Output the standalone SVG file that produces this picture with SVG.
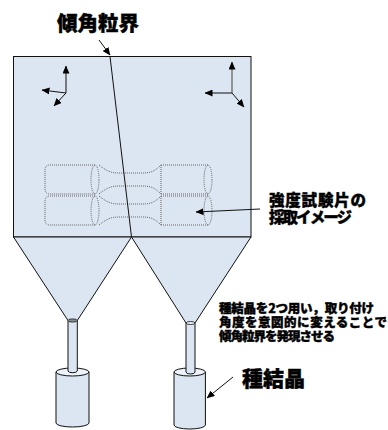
<svg xmlns="http://www.w3.org/2000/svg" xmlns:xlink="http://www.w3.org/1999/xlink" width="388" height="430" viewBox="0 0 388 430">
  <style>
    .body { fill: #dce6f2; stroke: #111; stroke-width: 1; }
    .cap { fill: #eef3fa; stroke: #111; stroke-width: 1; }
    .line { fill: none; stroke: #111; stroke-width: 1; }
    .dot { fill: none; stroke: #666; stroke-width: 1; stroke-dasharray: 1 1; }
    .jp { font-family: "Noto Sans CJK JP", "Noto Sans", sans-serif; font-weight: 900; fill: #000; stroke: #000; stroke-width: 0.4; }
  </style>
  <defs>
    <marker id="arrow" viewBox="0 0 8 7" refX="7.5" refY="3.5" markerWidth="8" markerHeight="7" markerUnits="userSpaceOnUse" orient="auto">
      <path d="M0,0 L8,3.5 L0,7 z" fill="#000"/>
    </marker>
    <!-- dotted outline of one tensile test piece, 29 px high -->
    <g id="specimen" class="dot">
      <path d="M95,0 L50,0 Q45,0 45,5 L45,24 Q45,29 50,29 L95,29"/>
      <ellipse cx="95" cy="14.5" rx="4" ry="14.5"/>
      <path d="M99,0 C108,7 112,8 120,8 L142,8 C150,8 154,7 161,0"/>
      <path d="M99,29 C108,22 112,21 120,21 L142,21 C150,21 154,22 161,29"/>
      <path d="M161,0 L161,29 M161,0 L208,0 M161,29 L208,29"/>
      <ellipse cx="208" cy="14.5" rx="4" ry="14.5"/>
    </g>
  </defs>

  <!-- cast block -->
  <g id="block">
    <rect class="body" x="13.5" y="56.5" width="237.5" height="180.5"/>
  </g>

  <!-- funnels -->
  <g id="funnel-left">
    <path class="body" d="M13.5,237 L131.5,237 L77.3,320.5 L68,320.5 Z"/>
  </g>
  <g id="funnel-right">
    <path class="body" d="M131.5,237 L251,237 L195,323 L186,323 Z"/>
  </g>

  <!-- seed crystals with their necks -->
  <g id="seed-left">
    <path class="body" d="M56,372 L56,423 A16.5,4 0 0 0 89,423 L89,372 Z"/>
    <ellipse class="cap" cx="72.5" cy="372" rx="16.5" ry="4"/>
    <path class="body" d="M68,320.5 L68,371 A4.7,2 0 0 0 77.3,371 L77.3,320.5 Z"/>
    <ellipse cx="72.6" cy="320.5" rx="4.7" ry="1.6" fill="#8a8f96" stroke="#111" stroke-width="0.8"/>
  </g>
  <g id="seed-right">
    <path class="body" d="M174,372 L174,425 A15.7,4 0 0 0 205.4,425 L205.4,372 Z"/>
    <ellipse class="cap" cx="189.7" cy="372" rx="15.7" ry="4"/>
    <path class="body" d="M186,323 L186,372 A4.5,2 0 0 0 195,372 L195,323 Z"/>
    <ellipse cx="190.5" cy="323" rx="4.5" ry="1.5" fill="#eef3fa" stroke="#111" stroke-width="0.8"/>
  </g>

  <!-- test pieces -->
  <g id="specimens">
    <use xlink:href="#specimen" transform="translate(0,165)"/>
    <use xlink:href="#specimen" transform="translate(0,196)"/>
  </g>

  <!-- crystal orientation axes -->
  <g id="axes-left">
    <path class="line" d="M66,93 L66,66" marker-end="url(#arrow)"/>
    <path class="line" d="M66,93 L42,90" marker-end="url(#arrow)"/>
    <path class="line" d="M66,93 L54,106" marker-end="url(#arrow)"/>
  </g>
  <g id="axes-right">
    <path fill="none" stroke="#777" stroke-width="1.5" d="M232,93 L232,62" marker-end="url(#arrow)"/>
    <path class="line" d="M232,93 L205,93" marker-end="url(#arrow)"/>
    <path class="line" d="M232,93 L244,107" marker-end="url(#arrow)"/>
  </g>

  <!-- grain boundary and leader lines -->
  <g id="connectors">
    <path class="line" d="M110,56.5 L131.5,237"/>
    <path class="line" d="M99,40 L110,55" marker-end="url(#arrow)"/>
    <path class="line" d="M260,209 L196,212" marker-end="url(#arrow)"/>
    <path class="line" d="M233,377 L207,398" marker-end="url(#arrow)"/>
  </g>

  <!-- labels -->
  <g id="label-boundary">
    <text class="jp" x="57" y="31" font-size="20.5">傾角粒界</text>
  </g>
  <g id="label-specimen">
    <text class="jp" font-size="15.5">
      <tspan x="269" y="206" textLength="97">強度試験片の</tspan>
      <tspan x="269" y="223" textLength="83">採取イメージ</tspan>
    </text>
  </g>
  <g id="label-note">
    <text class="jp" font-size="12.5">
      <tspan x="219" y="313" textLength="155">種結晶を2つ用い，取り付け</tspan>
      <tspan x="219" y="327" textLength="168">角度を意図的に変えることで</tspan>
      <tspan x="219" y="341" textLength="116">傾角粒界を発現させる</tspan>
    </text>
  </g>
  <g id="label-seed">
    <text class="jp" x="242" y="386" font-size="21">種結晶</text>
  </g>
</svg>
